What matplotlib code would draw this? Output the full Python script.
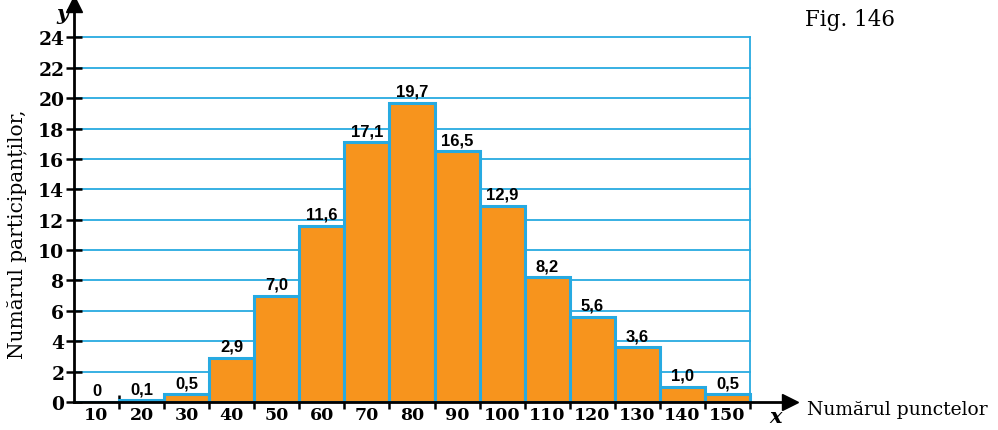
import matplotlib
matplotlib.use("Agg")
import matplotlib.pyplot as plt
import numpy as np

# date din figura
puncte = ["10", "20", "30", "40", "50", "60", "70", "80", "90", "100",
          "110", "120", "130", "140", "150"]
participanti = [0, 0.1, 0.5, 2.9, 7.0, 11.6, 17.1, 19.7, 16.5, 12.9,
                8.2, 5.6, 3.6, 1.0, 0.5]
y_ticks = list(range(0, 25, 2))

ORANGE = "#F7941D"
BLUE = "#27AAE1"
SERIF = ["DejaVu Serif"]

fig = plt.figure(figsize=(9.98, 4.31), dpi=100)
ax = fig.add_axes([74 / 998, 28 / 431, 716 / 998, 398 / 431])

n = len(puncte)
ax.set_xlim(0, n * 716 / 676)
ax.set_ylim(0, 26.2)

# linii orizontale pana la marginea ultimei bare
for yv in y_ticks[1:]:
    ax.plot([0, n], [yv, yv], color=BLUE, lw=1.3, zorder=1)
ax.plot([n, n], [0, 24], color=BLUE, lw=1.3, zorder=1)

xs = np.arange(n)
ax.bar(xs, participanti, width=1, align="edge", color=ORANGE,
       edgecolor=BLUE, linewidth=2.2, zorder=2)

for x, v in zip(xs, participanti):
    txt = ("%.1f" % v).replace(".", ",") if v != 0 else "0"
    ax.annotate(txt, (x + 0.5, v), xytext=(0, 3), textcoords="offset points",
                ha="center", va="bottom", fontsize=12, fontweight="bold",
                family=["Liberation Sans", "DejaVu Sans"], zorder=4)

# axe cu sageti
for s in ["top", "right"]:
    ax.spines[s].set_visible(False)
ax.spines["left"].set_linewidth(2)
ax.spines["bottom"].set_linewidth(2)
ax.spines["left"].set_zorder(5)
ax.spines["bottom"].set_zorder(5)
ax.plot(1, 0, ">k", ms=11, transform=ax.get_yaxis_transform(),
        clip_on=False, zorder=6)
ax.plot(0, 1, "^k", ms=11, transform=ax.get_xaxis_transform(),
        clip_on=False, zorder=6)

ax.set_yticks(y_ticks)
ax.set_yticklabels([str(t) for t in y_ticks], fontsize=13.5,
                   fontweight="bold", family=SERIF)
ax.tick_params(axis="y", direction="inout", length=12, width=1.8, pad=1)

ax.set_xticks(np.arange(1, n + 1))
ax.set_xticklabels([])
ax.tick_params(axis="x", which="major", direction="inout", length=10,
               width=1.8)
ax.set_xticks(xs + 0.5, minor=True)
ax.set_xticklabels(puncte, minor=True, fontsize=12.5, fontweight="bold",
                   family=SERIF)
ax.tick_params(axis="x", which="minor", length=0, pad=3)

fig.text(17 / 998, 1 - 234 / 431, "Numărul participanților,",
         rotation=90, ha="center", va="center", fontsize=14.5, family=SERIF)
fig.text(807 / 998, 1 - 410 / 431, "Numărul punctelor", ha="left",
         va="center", fontsize=13.5, family=SERIF)
fig.text(850 / 998, 1 - 20 / 431, "Fig. 146", ha="center", va="center",
         fontsize=15.5, family=SERIF)
fig.text(62 / 998, 1 - 14 / 431, "y", ha="center", va="center",
         fontsize=15, fontweight="bold", style="italic", family=SERIF)
fig.text(776 / 998, 1 - 417 / 431, "x", ha="center", va="center",
         fontsize=15, fontweight="bold", style="italic", family=SERIF)

fig.savefig("out.png", dpi=100)
